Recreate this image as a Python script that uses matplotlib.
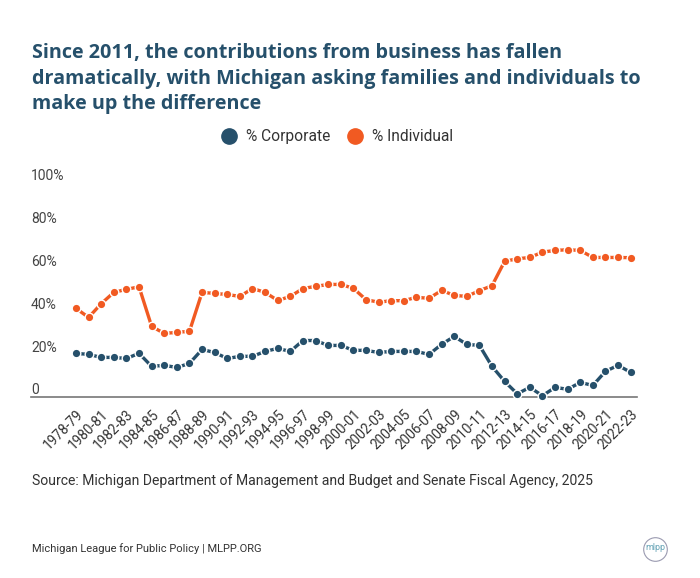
import matplotlib
matplotlib.use("Agg")
import matplotlib.pyplot as plt
from matplotlib.lines import Line2D

# ---- data ----
years = [f"{y}-{str(y + 1)[-2:]}" for y in range(1978, 2023)]

corporate = [20.4, 19.9, 18.5, 18.5, 18.0, 20.4, 14.3, 14.8, 13.8, 15.7,
             22.2, 20.8, 18.0, 19.0, 19.0, 21.3, 22.7, 21.3, 26.4, 26.4,
             24.1, 24.1, 21.8, 21.8, 20.8, 21.3, 21.3, 21.3, 19.9, 24.6,
             28.3, 24.6, 24.1, 14.3, 7.3, 1.5, 4.5, 0.6, 4.5, 3.6,
             6.8, 5.4, 12.0, 14.8, 11.5]

individual = [41.4, 37.2, 43.6, 48.9, 50.3, 51.5, 33.0, 29.7, 30.2, 30.7,
              48.9, 48.4, 47.9, 47.0, 50.7, 48.9, 45.1, 47.0, 50.7, 51.7,
              52.6, 52.6, 50.8, 45.5, 44.3, 45.0, 45.0, 46.6, 46.1, 49.8,
              47.5, 47.0, 49.7, 52.0, 63.4, 64.6, 65.2, 67.7, 68.5, 68.8,
              68.5, 65.2, 65.2, 65.2, 65.1]

y_ticks = [0, 20, 40, 60, 80, 100]
y_labels = ["0", "20%", "40%", "60%", "80%", "100%"]

series_names = ["% Corporate", "% Individual"]
colors = ["#26506b", "#f15a22"]

TITLE = ("Since 2011, the contributions from business has fallen\n"
         "dramatically, with Michigan asking families and individuals to\n"
         "make up the difference")
SOURCE = "Source: Michigan Department of Management and Budget and Senate Fiscal Agency, 2025"
FOOTER = "Michigan League for Public Policy | MLPP.ORG"

W, H = 700, 578
fig = plt.figure(figsize=(W / 100, H / 100), dpi=100)
fig.patch.set_facecolor("white")


def fx(px):
    return px / W


def fy(py):
    return 1 - py / H


def dot(x, y, size, **kw):
    # round marker placed in figure pixels, stays circular
    fig.add_artist(Line2D([fx(x)], [fy(y)], marker="o", ms=size, ls="none",
                          transform=fig.transFigure, **kw))


ax = fig.add_axes([fx(31), fy(397), fx(637) - fx(31), fy(183) - fy(397)])
xs = list(range(len(years)))

for vals, c in zip([corporate, individual], colors):
    ax.plot(xs, vals, color=c, lw=2.4, marker="o", ms=6.2,
            mfc=c, mec="white", mew=1.0, solid_capstyle="round", zorder=3,
            clip_on=False)

ax.set_xlim(-3.57, 44.5)
ax.set_ylim(0, 100)

for s in ["top", "right", "left"]:
    ax.spines[s].set_visible(False)
ax.spines["bottom"].set_color("#777777")
ax.spines["bottom"].set_linewidth(1.2)

# y labels sit just above where the (hidden) gridlines would be
ax.set_yticks([])
for v, lab in zip(y_ticks, y_labels):
    ax.text(-3.57, v - 0.2, lab, ha="left", va="bottom", fontsize=10,
            family="Roboto", color="#444444")

ax.set_xticks(xs[::2])
ax.set_xticklabels(years[::2], rotation=45, ha="right", va="top",
                   rotation_mode="anchor", fontsize=9.8, family="Roboto",
                   color="#333333")
ax.tick_params(axis="x", length=0, pad=7)

# title
fig.text(fx(32), fy(43), TITLE, ha="left", va="top", fontsize=14.2,
         family="Open Sans", weight="bold", color="#26506b", linespacing=1.38)

# legend
lx = [229, 355]
for x0, name, c in zip(lx, series_names, colors):
    dot(x0, 136, 11, color=c)
    fig.text(fx(x0 + 17), fy(136), name, ha="left", va="center",
             fontsize=11.2, family="Roboto", color="#333333")

# source + footer
fig.text(fx(32), fy(481), SOURCE, ha="left", va="center", fontsize=10.1,
         family="Roboto", color="#333333")
fig.text(fx(32), fy(549), FOOTER, ha="left", va="center", fontsize=8,
         family="Roboto", color="#333333")

# logo
dot(655, 549, 17, mfc="white", mec="#9a9ab0", mew=0.8)
fig.text(fx(655), fy(548), "mlpp", ha="center", va="center", fontsize=6.5,
         family="Roboto", color="#6aa6b8")

fig.savefig("out.png", dpi=100)
